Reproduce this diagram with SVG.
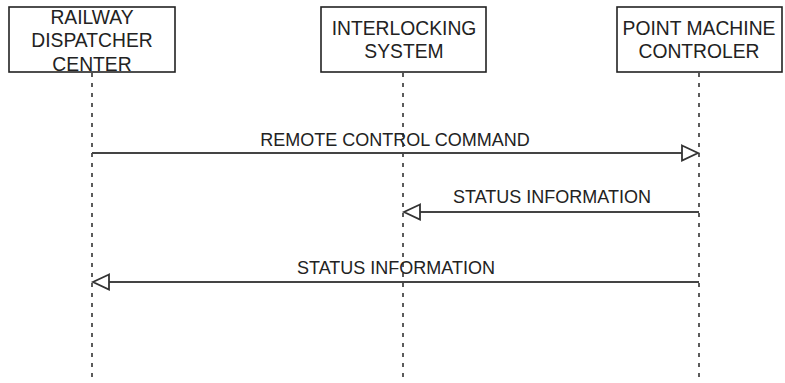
<svg xmlns="http://www.w3.org/2000/svg" width="785" height="383" viewBox="0 0 785 383">
<style>
.box{fill:#fff;stroke:#222;stroke-width:1.6}
.t{font-family:"Liberation Sans",Arial,sans-serif;font-size:19.3px;fill:#222;text-anchor:middle}
.m{font-family:"Liberation Sans",Arial,sans-serif;font-size:18px;fill:#222;text-anchor:middle}
.life{stroke:#333;stroke-width:1.6;stroke-dasharray:4 6;fill:none}
.msg{stroke:#444;stroke-width:1.8;fill:none}
.head{fill:#fff;stroke:#333;stroke-width:1.8}
</style>
<rect width="785" height="383" fill="#fff"/>
<g id="lifelines">
<line class="life" x1="92" y1="73" x2="92" y2="383"/>
<line class="life" x1="403" y1="73" x2="403" y2="383"/>
<line class="life" x1="699" y1="73" x2="699" y2="383"/>
</g>
<g id="node-dispatcher">
<rect class="box" x="9" y="7" width="166" height="65"/>
<text class="t" x="92" y="24">RAILWAY</text>
<text class="t" x="92" y="47">DISPATCHER</text>
<text class="t" x="92" y="71">CENTER</text>
</g>
<g id="node-interlocking">
<rect class="box" x="321" y="7" width="165" height="65"/>
<text class="t" x="404" y="35">INTERLOCKING</text>
<text class="t" x="404" y="58">SYSTEM</text>
</g>
<g id="node-pmc">
<rect class="box" x="617" y="7" width="165" height="65"/>
<text class="t" x="699" y="35">POINT MACHINE</text>
<text class="t" x="699" y="58">CONTROLER</text>
</g>
<g id="connectors">
<line class="msg" x1="92" y1="153" x2="682" y2="153"/>
<polygon class="head" points="682,145.5 698,153 682,160.5"/>
<text class="m" x="395" y="146">REMOTE CONTROL COMMAND</text>
<line class="msg" x1="699" y1="212" x2="420" y2="212"/>
<polygon class="head" points="420,204.5 404,212 420,219.5"/>
<text class="m" x="552" y="203">STATUS INFORMATION</text>
<line class="msg" x1="699" y1="282" x2="109" y2="282"/>
<polygon class="head" points="109,274.5 93,282 109,289.5"/>
<text class="m" x="396" y="274">STATUS INFORMATION</text>
</g>
</svg>
